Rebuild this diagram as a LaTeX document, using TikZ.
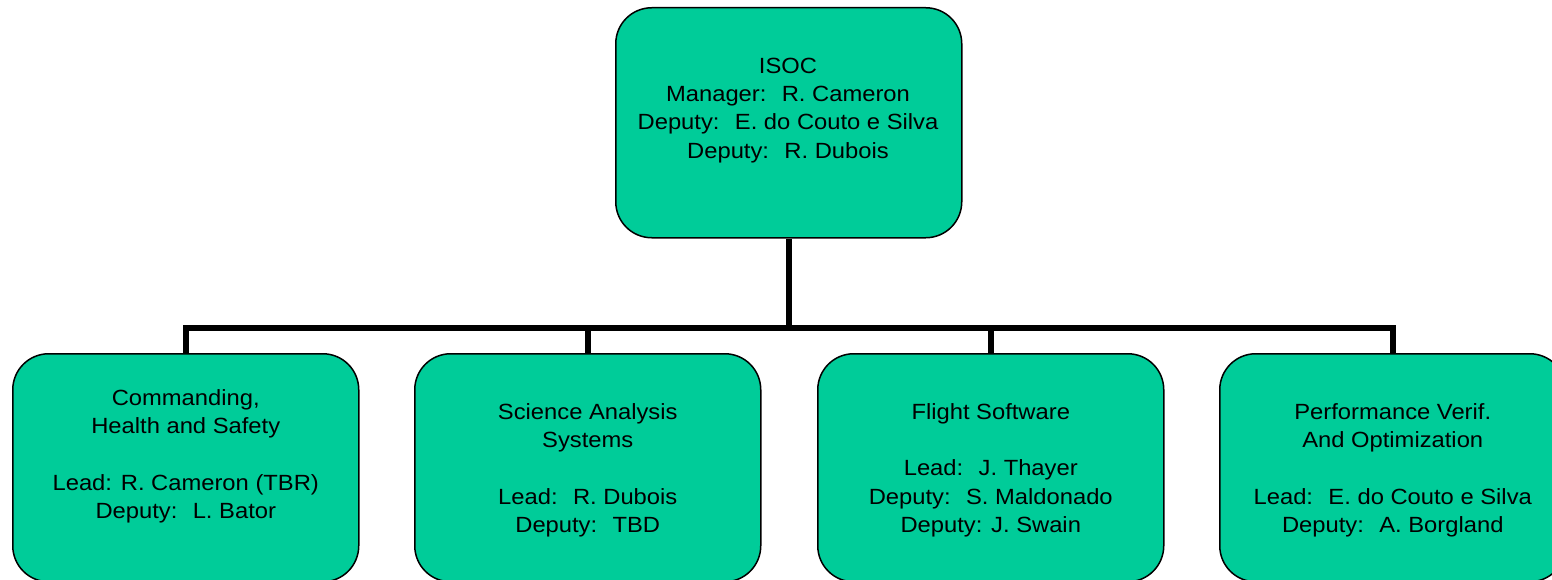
\documentclass[tikz,border=0pt]{standalone}
\usepackage{fontspec}
\setmainfont[FakeStretch=1.08]{Liberation Sans}
\definecolor{boxgreen}{RGB}{0,204,153}
\tikzset{
  orgbox/.style={draw=black, line width=1.5pt, fill=boxgreen, rounded corners=36pt,
    inner sep=0pt, anchor=north west},
  smallbox/.style={orgbox, minimum width=346pt, minimum height=228pt},
  label/.style={anchor=north, inner sep=0pt, align=center,
    font=\fontsize{22}{28.3}\selectfont},
  conn/.style={draw=black, line width=6.5pt}
}
\newcommand{\fl}{\rule{0pt}{16pt}}
\begin{document}
\begin{tikzpicture}[x=1pt, y=-1pt]
\useasboundingbox (0,0) rectangle (1552,580);
\clip (0,0) rectangle (1552,580);
% boxes
\node[orgbox, minimum width=346pt, minimum height=230pt] (top) at (615,7) {};
\node[smallbox] (b1) at (12,353) {};
\node[smallbox] (b2) at (414,353) {};
\node[smallbox] (b3) at (817,353) {};
\node[smallbox] (b4) at (1219,353) {};
% connectors
\coordinate (bus) at (788,328);
\draw[conn] (top.south) -- (top.south |- bus);
\draw[conn] (b1.north) -- (b1.north |- bus) -- (b4.north |- bus) -- (b4.north);
\draw[conn] (b2.north) -- (b2.north |- bus);
\draw[conn] (b3.north) -- (b3.north |- bus);
% texts
\node[label] (ttop) at (788,57) {\fl ISOC\\Manager:~ R. Cameron\\Deputy:~ E. do Couto e Silva\\Deputy:~ R. Dubois};
\node[label] (t1) at ([yshift=-36pt]b1.north) {\fl Commanding,\\Health and Safety\\[28.3pt]Lead: R. Cameron (TBR)\\Deputy:~ L. Bator};
\node[label] (t2) at ([yshift=-50pt]b2.north) {\fl Science Analysis\\Systems\\[28.3pt]Lead:~ R. Dubois\\Deputy:~ TBD};
\node[label] (t3) at ([yshift=-50pt]b3.north) {\fl Flight Software\\[28.3pt]Lead:~ J. Thayer\\Deputy:~ S. Maldonado\\Deputy: J. Swain};
\node[label] (t4) at ([yshift=-50pt]b4.north) {\fl Performance Verif.\\And Optimization\\[28.3pt]Lead:~ E. do Couto e Silva\\Deputy:~ A. Borgland};
\end{tikzpicture}
\end{document}
